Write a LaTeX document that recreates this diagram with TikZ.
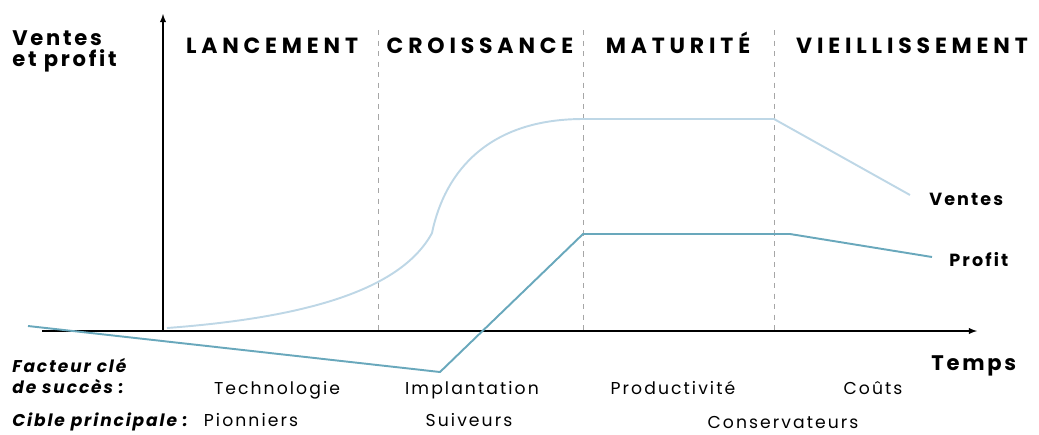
\documentclass[tikz,border=0pt]{standalone}
\usepackage{fontspec}
\setmainfont{Poppins}
\usetikzlibrary{arrows,calc}
\tikzset{>=latex}
\definecolor{ventes}{RGB}{190,215,230}
\definecolor{profit}{RGB}{105,168,188}
\tikzstyle{phase}=[font=\bfseries\fontsize{12.5}{14}\selectfont\addfontfeatures{LetterSpace=22},inner sep=0pt,anchor=base]
\tikzstyle{etiq}=[font=\fontsize{9.8}{11}\selectfont\addfontfeatures{LetterSpace=12},inner sep=0pt,anchor=base]
\tikzstyle{legende}=[font=\bfseries\fontsize{10}{11}\selectfont\addfontfeatures{LetterSpace=12},inner sep=0pt,anchor=base west]
\tikzstyle{titre}=[font=\bfseries\fontsize{12}{13}\selectfont\addfontfeatures{LetterSpace=13},inner sep=0pt,anchor=base west]
\tikzstyle{rubrique}=[font=\bfseries\itshape\fontsize{9.7}{11}\selectfont\addfontfeatures{LetterSpace=11},inner sep=0pt,anchor=base west]
\tikzstyle{limite}=[draw=gray!70,dash pattern=on 3pt off 3pt,thin]
\tikzstyle{courbe}=[line width=1.1pt,line join=round]

\begin{document}
\begin{tikzpicture}[x=0.02cm,y=-0.02cm]
    \useasboundingbox (0,0) rectangle (1039,434);

    % axes
    \coordinate (o) at (163,331);
    \coordinate (yh) at (163,14);
    \coordinate (xg) at (42,331);
    \coordinate (xd) at (977,331);
    \draw[->,semithick] (o) -- (yh);
    \draw[->,semithick] (xg) -- (xd);

    % phases
    \foreach \x in {378,583,774} {
        \coordinate (dh\x) at (\x,30);
        \coordinate (db\x) at (\x,331);
        \draw[limite] (dh\x) -- (db\x);
    };
    \node[phase] (lanc) at (272,53) {LANCEMENT};
    \node[phase] (crois) at (480,53) {CROISSANCE};
    \node[phase] (matu) at (678,53) {MATURITÉ};
    \node[phase] (vieil) at (912,53) {VIEILLISSEMENT};

    % courbes
    \coordinate (v0) at (167,328);
    \coordinate (v1) at (432,233);
    \coordinate (v2) at (583,119);
    \coordinate (v3) at (774,119);
    \coordinate (v4) at (910,195);
    \draw[courbe,ventes] (v0) .. controls (300,318) and (400,292) .. (v1)
        .. controls (445,170) and (490,119) .. (v2) -- (v3) -- (v4);

    \coordinate (p0) at (28,326);
    \coordinate (p1) at (440,372);
    \coordinate (p2) at (583,234);
    \coordinate (p3) at (790,234);
    \coordinate (p4) at (932,257);
    \draw[courbe,profit] (p0) -- (p1) -- (p2) -- (p3) -- (p4);

    \node[legende] (vl) at (929,205) {Ventes};
    \node[legende] (pl) at (949,266) {Profit};

    % textes
    \node[titre] (vp1) at (12,45) {Ventes};
    \node[titre] (vp2) at (12,66) {et profit};
    \node[titre] (t) at (931,370) {Temps};
    \node[rubrique] (fc1) at (12,372) {Facteur clé};
    \node[rubrique] (fc2) at (12,393) {de succès :};
    \node[rubrique] (cp) at (12,426) {Cible principale :};

    \node[etiq] (f1) at (277,394) {Technologie};
    \node[etiq] (f2) at (472,394) {Implantation};
    \node[etiq] (f3) at (673,394) {Productivité};
    \node[etiq] (f4) at (873,394) {Coûts};

    \node[etiq] (c1) at (251,426) {Pionniers};
    \node[etiq] (c2) at (469,426) {Suiveurs};
    \node[etiq] (c3) at (783,428) {Conservateurs};
\end{tikzpicture}
\end{document}
